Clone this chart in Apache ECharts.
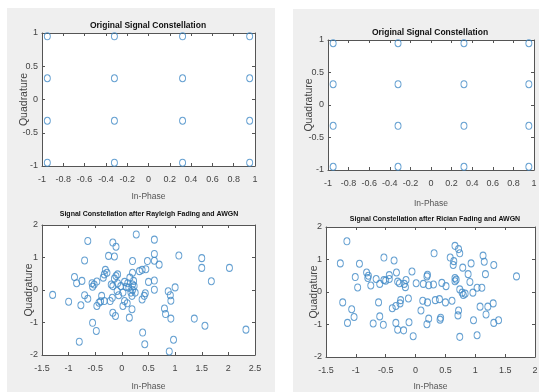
<!DOCTYPE html>
<html>
<head>
<meta charset="utf-8">
<script src="https://cdn.jsdelivr.net/npm/echarts@6/dist/echarts.min.js"></script>
<style>
  html, body { margin: 0; padding: 0; background: #fff; }
  #chart { width: 547px; height: 392px; }
</style>
</head>
<body>
<div id="chart"></div>
<script>
// 16-QAM reference levels (I and Q)
const origLevels = [-0.95, -0.32, 0.32, 0.95];

// Received symbols after Rayleigh fading + AWGN
const rayleighI = [-1.30, -1.00, -0.89, -0.85, -0.75, -0.77, -0.80, -0.70, -0.64, -0.70,
  -0.64, -0.55, -0.48, -0.56, -0.55, -0.47, -0.52, -0.47, -0.43, -0.40,
  -0.38, -0.33, -0.35, -0.33, -0.31, -0.28, -0.25, -0.14, -0.17, -0.11,
  -0.20, -0.17, -0.18, -0.22, -0.17, -0.12, -0.14, -0.11, -0.08, -0.09,
  -0.06, -0.08, -0.02, 0.02, 0.05, 0.08, 0.02, 0.05, 0.10, 0.11,
  0.13, 0.15, 0.17, 0.19, 0.20, 0.20, 0.14, 0.19, 0.22, 0.20,
  0.20, 0.23, 0.25, 0.27, 0.33, 0.38, 0.38, 0.42, 0.44, 0.39,
  0.43, 0.45, 0.48, 0.61, 0.61, 0.61, 0.70, 0.61, 0.61, 0.87,
  0.91, 0.92, 1.00, 0.80, 0.82, 0.92, 0.97, 0.89, 1.07, 1.50,
  1.50, 1.68, 1.36, 1.56, 2.02, 2.33, 0.50];
const rayleighQ = [-0.15, -0.36, 0.40, 0.21, 0.28, -0.47, -1.59, 0.91, 1.51, -0.16,
  -0.27, -1.01, -1.26, 0.21, 0.10, 0.26, 0.17, -0.49, -0.39, -0.35,
  -0.18, -0.34, 0.38, 0.48, 0.62, 0.53, 1.05, 1.03, 1.46, 1.33,
  0.17, 0.12, -0.24, -0.34, -0.70, -0.80, 0.35, 0.43, 0.48, -0.03,
  -0.16, 0.21, 0.12, -0.08, 0.25, 0.10, -0.49, -0.34, -0.41, 0.21,
  0.07, 0.38, -0.08, -0.18, 0.00, 0.17, -0.85, -0.59, 0.28, 0.89,
  0.53, 0.12, -0.08, 1.71, 0.58, 0.62, -0.29, -0.18, -0.10, -1.31,
  -1.67, 0.64, 0.89, 1.55, 1.11, 0.90, 0.78, 0.29, 0.01, -0.04,
  -0.16, -0.33, 0.08, -0.57, -0.74, -0.88, -1.53, -1.89, 1.06, 0.98,
  0.68, 0.27, -0.88, -1.10, 0.68, -1.22, 0.25];

// Received symbols after Rician fading + AWGN
const ricianI = [-1.26, -1.15, -1.22, -1.14, -1.01, -0.97, -0.94, -1.07, -1.03, -0.82,
  -0.80, -0.79, -0.75, -0.71, -0.66, -0.62, -0.60, -0.60, -0.54, -0.53,
  -0.53, -0.50, -0.44, -0.44, -0.36, -0.39, -0.33, -0.32, -0.30, -0.27,
  -0.33, -0.30, -0.26, -0.25, -0.19, -0.17, -0.16, -0.20, -0.12, -0.11,
  -0.06, -0.04, 0.01, 0.09, 0.12, 0.13, 0.19, 0.20, 0.22, 0.20,
  0.19, 0.22, 0.30, 0.31, 0.33, 0.40, 0.41, 0.42, 0.44, 0.50,
  0.51, 0.58, 0.64, 0.63, 0.66, 0.66, 0.66, 0.68, 0.61, 0.72,
  0.74, 0.72, 0.71, 0.74, 0.78, 0.80, 0.83, 0.74, 0.79, 0.88,
  0.91, 0.93, 0.96, 0.97, 1.03, 1.03, 1.08, 1.11, 1.13, 1.15,
  1.17, 1.18, 1.21, 1.30, 1.31, 1.31, 1.39, 1.69];
const ricianQ = [0.88, 1.56, -0.32, -0.95, 0.46, 0.14, 0.87, -0.53, -0.77, 0.60,
  0.43, 0.50, 0.20, -0.97, 0.40, -0.32, -0.75, 0.25, -1.01, 1.06,
  0.37, 0.35, 0.52, 0.40, 0.97, -0.50, -0.43, 0.60, 0.32, 0.27,
  -0.95, -1.16, -0.35, -0.25, 0.25, 0.15, 0.37, -1.18, -0.20, -0.93,
  0.63, -1.36, 0.27, -0.57, -0.27, 0.25, 0.48, 0.53, 0.21, -0.32,
  -0.99, -0.82, 0.23, 1.19, -0.25, -0.22, -0.85, -0.79, 0.28, -0.32,
  0.18, 1.06, 0.95, 0.83, 1.42, 0.43, 0.33, 0.38, -0.27, 1.32,
  1.19, -0.57, -0.72, 0.08, -0.02, -0.09, -0.05, -1.38, 0.75, 0.55,
  0.31, 0.88, -0.02, -0.87, 0.13, -1.33, -0.45, 0.13, 1.12, 0.93,
  0.55, -0.69, -0.45, -0.35, 0.83, -0.95, -0.87, 0.48];

// axis ranges: [min, max, interval]
const origX = [-1, 1, 0.2];
const origY = [-1, 1, 0.5];
const rayleighX = [-1.5, 2.5, 0.5];
const ricianX = [-1.5, 2, 0.5];
const fadedY = [-2, 2, 1];

const titles = [
  "Original Signal Constellation",
  "Original Signal Constellation",
  "Signal Constellation after Rayleigh Fading and AWGN",
  "Signal Constellation after Rician Fading and AWGN"
];

const NARROW = "'Liberation Sans Narrow', 'Arial Narrow', 'Liberation Sans', Arial, sans-serif";
const WIDE = "'Liberation Sans', Arial, sans-serif";
const lineCol = "#555";
const markCol = "#3f88c5";

const grids = [
  { left: 42, top: 33, width: 213, height: 133, backgroundColor: "#fff", show: true, borderWidth: 0 },
  { left: 328, top: 40, width: 206, height: 130, backgroundColor: "#fff", show: true, borderWidth: 0 },
  { left: 42, top: 225, width: 213, height: 130, backgroundColor: "#fff", show: true, borderWidth: 0 },
  { left: 326, top: 227, width: 209, height: 133, backgroundColor: "#fff", show: true, borderWidth: 0 }
];

const ranges = [[origX, origY], [origX, origY], [rayleighX, fadedY], [ricianX, fadedY]];
const xNameGap = [26, 29, 27, 25];
const yNameGap = [12, 13, 7, 6];

const xAxes = [];
const yAxes = [];
ranges.forEach(([rx, ry], i) => {
  const base = {
    gridIndex: i,
    type: "value",
    axisLine: { show: true, onZero: false, lineStyle: { color: lineCol, width: 1 } },
    axisTick: { show: true, inside: true, length: 3, lineStyle: { color: lineCol } },
    splitLine: { show: false },
  };
  // bottom / left axes carry labels and names
  xAxes.push({
    ...base, position: "bottom", min: rx[0], max: rx[1], interval: rx[2],
    name: "In-Phase", nameLocation: "middle", nameGap: xNameGap[i], nameMoveOverlap: false,
    nameTextStyle: { color: "#555", fontSize: 8.5, fontFamily: NARROW },
    axisLabel: { color: "#444", fontSize: 9, fontFamily: NARROW, margin: 9 },
  });
  xAxes.push({ ...base, position: "top", min: rx[0], max: rx[1], interval: rx[2], axisLabel: { show: false } });
  yAxes.push({
    ...base, position: "left", min: ry[0], max: ry[1], interval: ry[2],
    name: "Quadrature", nameLocation: "middle", nameGap: yNameGap[i], nameMoveOverlap: false,
    nameTextStyle: { color: "#444", fontSize: 10.5, fontFamily: WIDE },
    axisLabel: { color: "#444", fontSize: 9, fontFamily: NARROW, margin: 4 },
  });
  yAxes.push({ ...base, position: "right", min: ry[0], max: ry[1], interval: ry[2], axisLabel: { show: false } });
});

const origPts = [];
origLevels.forEach((x) => origLevels.forEach((y) => origPts.push([x, y])));
const rayleighPts = rayleighI.map((x, k) => [x, rayleighQ[k]]);
const ricianPts = ricianI.map((x, k) => [x, ricianQ[k]]);

const seriesData = [origPts, origPts, rayleighPts, ricianPts];
const series = seriesData.map((d, i) => ({
  type: "scatter",
  xAxisIndex: i * 2,
  yAxisIndex: i * 2,
  data: d,
  symbol: "circle",
  symbolSize: [6, 7],
  itemStyle: { color: "rgba(0,0,0,0)", borderColor: markCol, borderWidth: 1 },
  silent: true,
}));

const titlePos = [[148, 26], [430, 33], [149, 214], [435, 219]];
const titleSize = [8.5, 8.5, 7, 7];

const chart = echarts.init(document.getElementById("chart"), null, { renderer: "canvas" });
chart.setOption({
  animation: false,
  backgroundColor: "#fff",
  graphic: [
    { type: "rect", z: -10, shape: { x: 7, y: 8, width: 268, height: 384 }, style: { fill: "#efefef" } },
    { type: "rect", z: -10, shape: { x: 293, y: 9, width: 246, height: 383 }, style: { fill: "#efefef" } },
    ...titles.map((t, i) => ({
      type: "text", x: titlePos[i][0], y: titlePos[i][1],
      style: { text: t, fill: "#111", font: "bold " + titleSize[i] + "px " + NARROW, textAlign: "center", textVerticalAlign: "middle" },
    })),
  ],
  grid: grids,
  xAxis: xAxes,
  yAxis: yAxes,
  series,
});
</script>
</body>
</html>
